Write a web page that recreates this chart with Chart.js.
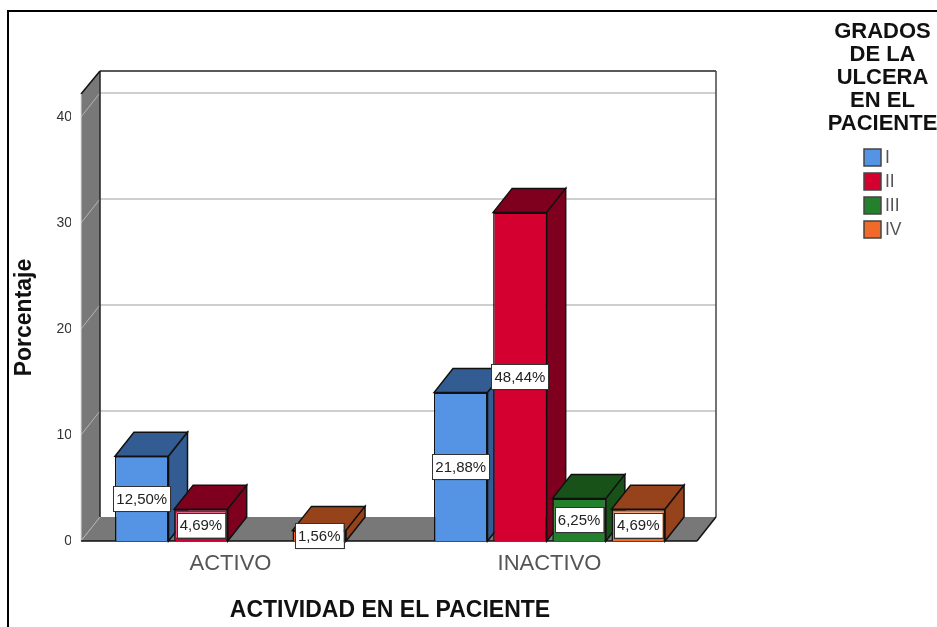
<!DOCTYPE html>
<html>
<head>
<meta charset="utf-8">
<title>Actividad en el paciente</title>
<script src="https://cdn.jsdelivr.net/npm/chart.js@4"></script>
<style>
html,body{margin:0;padding:0;background:#fff;overflow:hidden}
canvas{display:block}
</style>
</head>
<body>
<canvas id="c" width="937" height="627"></canvas>
<script>
const categories = ['ACTIVO', 'INACTIVO'];
const seriesNames = ['I', 'II', 'III', 'IV'];
const valuesI = [8, 14];
const valuesII = [3, 31];
const valuesIII = [null, 4];
const valuesIV = [1, 3];
const labelsI = ['12,50%', '21,88%'];
const labelsII = ['4,69%', '48,44%'];
const labelsIII = [null, '6,25%'];
const labelsIV = ['1,56%', '4,69%'];
const yTicks = [0, 10, 20, 30, 40];
const legendTitle = ['GRADOS', 'DE LA', 'ULCERA', 'EN EL', 'PACIENTE'];
const xTitle = 'ACTIVIDAD EN EL PACIENTE';
const yTitle = 'Porcentaje';

const frontColors = ['#5594E4', '#D40030', '#24802C', '#F26A2A'];
const topColors = ['#325C92', '#7E001E', '#185218', '#96421A'];
const pointLabels = [labelsI, labelsII, labelsIII, labelsIV];

const DX = 19, DY = -24;
const SANS = '"Liberation Sans", Arial, sans-serif';

function poly(ctx, pts, fill, stroke, lw) {
  ctx.beginPath();
  pts.forEach((p, i) => i ? ctx.lineTo(p[0], p[1]) : ctx.moveTo(p[0], p[1]));
  ctx.closePath();
  if (fill) { ctx.fillStyle = fill; ctx.fill(); }
  if (stroke) { ctx.strokeStyle = stroke; ctx.lineWidth = lw || 1; ctx.stroke(); }
}
function line(ctx, x1, y1, x2, y2, color, lw) {
  ctx.beginPath(); ctx.moveTo(x1, y1); ctx.lineTo(x2, y2);
  ctx.strokeStyle = color; ctx.lineWidth = lw; ctx.stroke();
}

const scene3d = {
  id: 'scene3d',
  beforeDraw(chart) {
    const ctx = chart.ctx, a = chart.chartArea, y = chart.scales.y;
    const L = a.left + 10, R = a.right - 12, T = a.top, B = a.bottom;
    const backTop = T - 23;
    ctx.save();
    // outer frame
    line(ctx, 8, 11, 937, 11, '#000', 2);
    line(ctx, 8, 10, 8, 627, '#000', 2);
    // walls
    poly(ctx, [[L, T], [L + DX, backTop], [L + DX, B + DY], [L, B]], '#787878');
    poly(ctx, [[L, B], [L + DX, B + DY], [R + DX, B + DY], [R, B]], '#787878');
    // gridlines from the value scale
    yTicks.forEach(v => {
      const py = y.getPixelForValue(v);
      line(ctx, L, py, L + DX, py + DY, '#b4b4b4', 1);
      if (v > 0) line(ctx, L + DX, py + DY, R + DX, py + DY, '#cfcfcf', 2);
    });
    // outlines
    line(ctx, L + DX, backTop, R + DX, backTop, '#222', 1.5);
    line(ctx, R + DX, backTop, R + DX, B + DY, '#444', 1.5);
    line(ctx, L + DX, backTop, L + DX, B + DY, '#222', 1.5);
    line(ctx, L, T, L + DX, backTop, '#111', 1.5);
    line(ctx, L, T, L, B, '#ddd', 1);
    line(ctx, L, B, R, B, '#111', 1.5);
    line(ctx, R, B, R + DX, B + DY, '#111', 1.5);
    ctx.restore();
  },
  beforeDatasetDraw() { return false; },
  afterDatasetsDraw(chart) {
    const ctx = chart.ctx;
    ctx.save();
    // painter's order: left to right
    categories.forEach((_, ci) => {
      chart.data.datasets.forEach((ds, di) => {
        const el = chart.getDatasetMeta(di).data[ci];
        if (ds.data[ci] == null || !el) return;
        const p = el.getProps(['x', 'y', 'base', 'width'], true);
        const l = p.x - p.width / 2, r = p.x + p.width / 2, t = p.y, b = p.base;
        const dark = topColors[di];
        poly(ctx, [[l, t], [l + DX, t + DY], [r + DX, t + DY], [r, t]], dark, '#111', 1.5);
        poly(ctx, [[r, t], [r + DX, t + DY], [r + DX, b + DY], [r, b]], dark, '#111', 1.5);
        el.draw(ctx);
      });
    });
    // value labels
    ctx.font = '15px ' + SANS;
    ctx.textAlign = 'center';
    ctx.textBaseline = 'middle';
    chart.data.datasets.forEach((ds, di) => {
      chart.getDatasetMeta(di).data.forEach((el, ci) => {
        const txt = pointLabels[di][ci];
        if (!txt) return;
        const p = el.getProps(['x', 'y', 'base'], true);
        const cx = p.x, cy = (p.y + p.base) / 2;
        const w = ctx.measureText(txt).width + 6, h = 25;
        ctx.fillStyle = 'rgba(0,0,0,0.25)';
        ctx.fillRect(cx - w / 2 + 1, cy - h / 2 + 1, w, h);
        ctx.fillStyle = '#fff';
        ctx.fillRect(cx - w / 2, cy - h / 2, w, h);
        ctx.strokeStyle = '#333';
        ctx.lineWidth = 1;
        ctx.strokeRect(Math.round(cx - w / 2) + .5, Math.round(cy - h / 2) + .5, Math.round(w), h);
        ctx.fillStyle = '#222';
        ctx.fillText(txt, cx, cy + 1);
      });
    });
    // legend
    ctx.fillStyle = '#111';
    ctx.font = 'bold 22px ' + SANS;
    legendTitle.forEach((s, i) => ctx.fillText(s, 882.5, 32 + i * 23));
    ctx.textAlign = 'left';
    seriesNames.forEach((s, i) => {
      const top = 149 + i * 24;
      ctx.fillStyle = frontColors[i];
      ctx.fillRect(864, top, 17, 17);
      ctx.strokeStyle = '#444';
      ctx.lineWidth = 1.5;
      ctx.strokeRect(864, top, 17, 17);
      ctx.fillStyle = '#555';
      ctx.font = '17.5px ' + SANS;
      ctx.fillText(s, 885, top + 9);
    });
    ctx.restore();
  }
};

new Chart(document.getElementById('c'), {
  type: 'bar',
  data: {
    labels: categories,
    datasets: [
      { label: seriesNames[0], data: valuesI },
      { label: seriesNames[1], data: valuesII },
      { label: seriesNames[2], data: valuesIII },
      { label: seriesNames[3], data: valuesIV }
    ].map((d, i) => Object.assign(d, {
      backgroundColor: frontColors[i],
      borderColor: '#111',
      borderWidth: 1.5,
      categoryPercentage: 0.742,
      barPercentage: 0.905
    }))
  },
  options: {
    responsive: false,
    animation: false,
    events: [],
    layout: { padding: { left: 0, top: 94, right: 228, bottom: 0 } },
    plugins: { legend: { display: false }, tooltip: { enabled: false }, title: { display: false } },
    scales: {
      x: {
        afterFit(s) { s.height = 86; },
        grid: { display: false, drawTicks: false },
        border: { display: false },
        ticks: { color: '#555', padding: 10, font: { family: SANS, size: 22 }, maxRotation: 0 },
        title: { display: true, text: xTitle, color: '#111', font: { family: SANS, size: 23, weight: 'bold' }, padding: { top: 0, bottom: 3 } }
      },
      y: {
        min: 0,
        max: 42.17,
        afterFit(s) { s.width = 71; },
        grid: { display: false, drawTicks: false },
        border: { display: false },
        ticks: { color: '#333', padding: -1, stepSize: 10, includeBounds: false, font: { family: SANS, size: 14 } },
        title: { display: true, text: yTitle, color: '#111', font: { family: SANS, size: 23, weight: 'bold' }, padding: { top: 11, bottom: 0 } }
      }
    }
  },
  plugins: [scene3d]
});
</script>
</body>
</html>
